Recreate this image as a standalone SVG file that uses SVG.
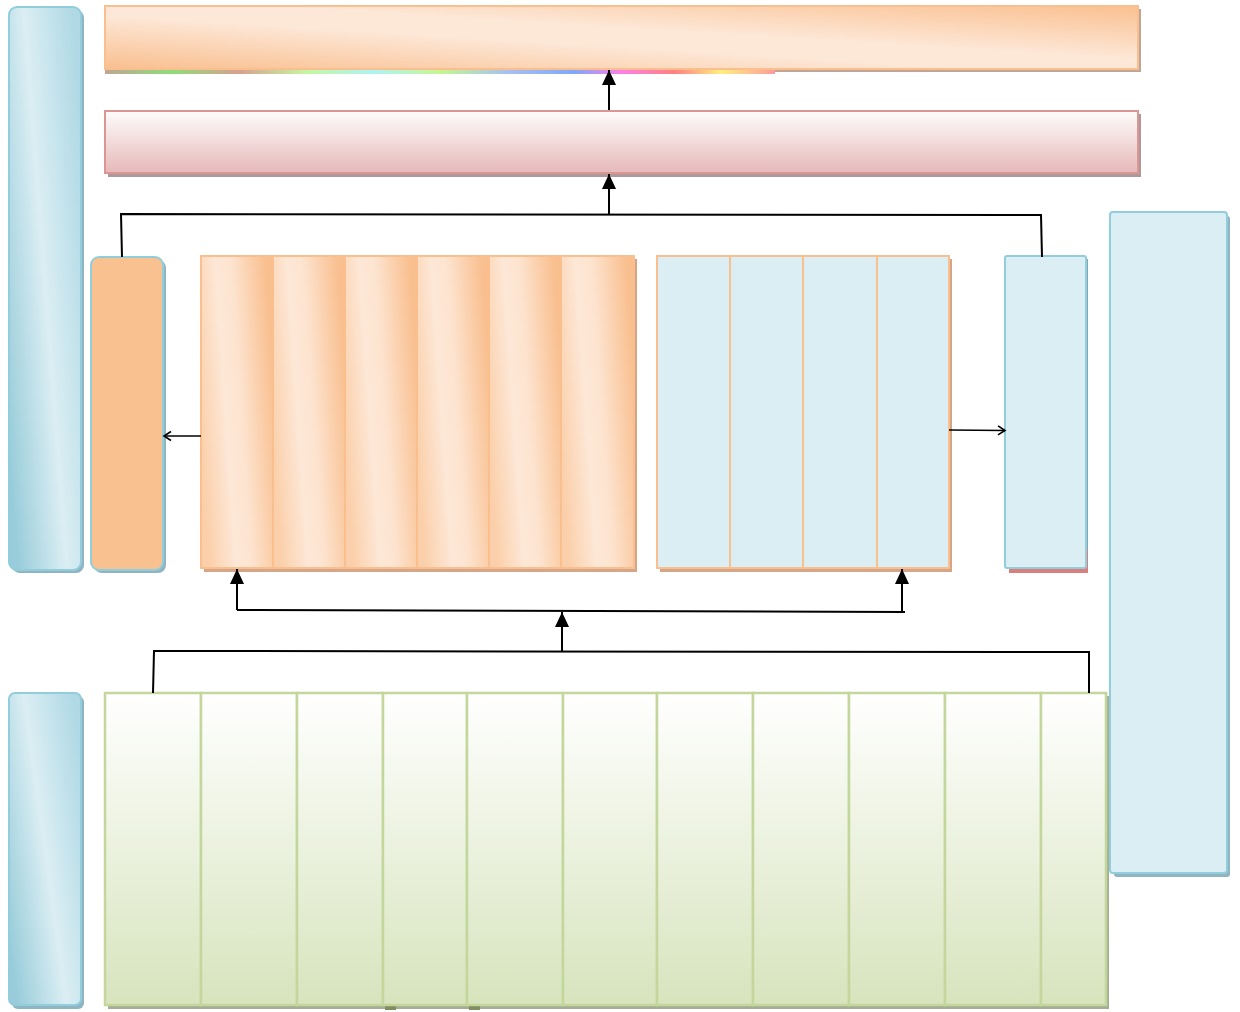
<svg xmlns="http://www.w3.org/2000/svg" width="1240" height="1012" viewBox="0 0 1240 1012">
<style>
.conn{fill:none;stroke:#000;stroke-width:2}
.thin{fill:none;stroke:#000;stroke-width:1.6}
.orcol{fill:url(#gCol);stroke:#f9bf8f;stroke-width:2}
.blcol{fill:#dbeef3;stroke:#f9bf8f;stroke-width:2}
.grcol{fill:url(#gGr);stroke:#c3d69b;stroke-width:2.5}
.shOr{fill:#d4a687}
.shBl{fill:#8fb5c3}
.shGr{fill:#a5ad95}
</style>
<defs>
<linearGradient id="gOr" x1="0" y1="1" x2="1" y2="0">
<stop offset="0" stop-color="#f9bf8f"/>
<stop offset="0.42" stop-color="#fde7d6"/>
<stop offset="0.58" stop-color="#fde7d6"/>
<stop offset="1" stop-color="#fac090"/>
</linearGradient>
<linearGradient id="gCol" x1="0" y1="0.65" x2="1" y2="0.35">
<stop offset="0" stop-color="#fbcfa9"/>
<stop offset="0.35" stop-color="#fde7d6"/>
<stop offset="0.55" stop-color="#fde4d0"/>
<stop offset="1" stop-color="#f9bf8f"/>
</linearGradient>
<linearGradient id="gPk" x1="0" y1="0" x2="0" y2="1">
<stop offset="0" stop-color="#fefcfc"/>
<stop offset="1" stop-color="#e6b9b8"/>
</linearGradient>
<linearGradient id="gBl" x1="0" y1="0.8" x2="1" y2="0.2">
<stop offset="0" stop-color="#98ccda"/>
<stop offset="0.5" stop-color="#dbeef3"/>
<stop offset="1" stop-color="#b0d9e5"/>
</linearGradient>
<linearGradient id="gGr" x1="0" y1="0" x2="0" y2="1">
<stop offset="0" stop-color="#ffffff"/>
<stop offset="1" stop-color="#d7e4bd"/>
</linearGradient>
<linearGradient id="gStrip" x1="0" y1="0" x2="1" y2="0">
<stop offset="0" stop-color="#c0a595"/>
<stop offset="0.1" stop-color="#8fdc7a"/>
<stop offset="0.2" stop-color="#d8a090"/>
<stop offset="0.3" stop-color="#c5f5a0"/>
<stop offset="0.4" stop-color="#aef3f5"/>
<stop offset="0.5" stop-color="#c8f590"/>
<stop offset="0.6" stop-color="#a8c0f0"/>
<stop offset="0.7" stop-color="#7fa8f8"/>
<stop offset="0.77" stop-color="#ff80e8"/>
<stop offset="0.85" stop-color="#ff8080"/>
<stop offset="0.92" stop-color="#fff080"/>
<stop offset="1" stop-color="#ff9a9a"/>
</linearGradient>
<marker id="tri" markerUnits="userSpaceOnUse" markerWidth="16" markerHeight="16" refX="15" refY="7" orient="auto">
<path d="M0,0 L15,7 L0,14 Z" fill="#000"/>
</marker>
<marker id="open" markerUnits="userSpaceOnUse" markerWidth="10" markerHeight="12" refX="8" refY="5.5" orient="auto">
<path d="M1,1 L8,5.5 L1,10" fill="none" stroke="#000" stroke-width="1.6"/>
</marker>
</defs>

<g id="top-bar">
<rect x="108" y="9" width="1033" height="63" fill="#c0a595"/>
<rect x="105" y="70" width="670" height="4" fill="url(#gStrip)"/>
<rect x="105" y="6" width="1033" height="63" fill="url(#gOr)" stroke="#f9bf8f" stroke-width="2"/>
</g>

<g id="second-bar">
<rect x="108" y="114" width="1033" height="63" fill="#b09898"/>
<rect x="105" y="111" width="1033" height="62" fill="url(#gPk)" stroke="#d99694" stroke-width="2"/>
</g>

<g id="left-panel-top">
<rect x="12" y="10" width="72" height="563" rx="8" class="shBl"/>
<rect x="9" y="7" width="72" height="563" rx="8" fill="url(#gBl)" stroke="#92cddc" stroke-width="2"/>
</g>

<g id="orange-box">
<rect x="94" y="260" width="72" height="313" rx="8" class="shBl"/>
<rect x="91" y="257" width="72" height="313" rx="8" fill="#f9c090" stroke="#92cddc" stroke-width="2"/>
</g>

<g id="orange-columns">
<rect x="204" y="259" width="433" height="313" class="shOr"/>
<rect x="201" y="256" width="72" height="312" class="orcol"/>
<rect x="273" y="256" width="72" height="312" class="orcol"/>
<rect x="345" y="256" width="72" height="312" class="orcol"/>
<rect x="417" y="256" width="72" height="312" class="orcol"/>
<rect x="489" y="256" width="72" height="312" class="orcol"/>
<rect x="561" y="256" width="73" height="312" class="orcol"/>
</g>

<g id="blue-columns">
<rect x="660" y="259" width="292" height="313" class="shOr"/>
<rect x="657" y="256" width="73" height="312" class="blcol"/>
<rect x="730" y="256" width="73" height="312" class="blcol"/>
<rect x="803" y="256" width="74" height="312" class="blcol"/>
<rect x="877" y="256" width="72" height="312" class="blcol"/>
</g>

<g id="right-blue-box">
<rect x="1009" y="260" width="79" height="313" fill="#d9807f"/>
<rect x="1008" y="259" width="80" height="290" fill="#7fa8b8"/>
<rect x="1005" y="256" width="81" height="312" rx="2" fill="#dbeef3" stroke="#92cddc" stroke-width="2"/>
</g>

<g id="right-tall-panel">
<rect x="1114" y="216" width="116" height="661" rx="3" class="shBl"/>
<rect x="1110" y="212" width="117" height="661" rx="3" fill="#dbeef3" stroke="#92cddc" stroke-width="2"/>
</g>

<g id="left-panel-bottom">
<rect x="12" y="696" width="72" height="313" rx="6" class="shBl"/>
<rect x="9" y="693" width="72" height="312" rx="6" fill="url(#gBl)" stroke="#92cddc" stroke-width="2"/>
</g>

<g id="green-columns">
<rect x="108" y="696" width="1001" height="313" class="shGr"/>
<rect x="385" y="1005" width="11" height="5" fill="#7f8f5f"/>
<rect x="469" y="1005" width="11" height="5" fill="#7f8f5f"/>
<rect x="105" y="693" width="96" height="312" class="grcol"/>
<rect x="201" y="693" width="96" height="312" class="grcol"/>
<rect x="297" y="693" width="86" height="312" class="grcol"/>
<rect x="383" y="693" width="84" height="312" class="grcol"/>
<rect x="467" y="693" width="96" height="312" class="grcol"/>
<rect x="563" y="693" width="94" height="312" class="grcol"/>
<rect x="657" y="693" width="96" height="312" class="grcol"/>
<rect x="753" y="693" width="96" height="312" class="grcol"/>
<rect x="849" y="693" width="96" height="312" class="grcol"/>
<rect x="945" y="693" width="96" height="312" class="grcol"/>
<rect x="1041" y="693" width="65" height="312" class="grcol"/>
</g>

<g id="connectors">
<path class="conn" d="M609,110 L609,70" marker-end="url(#tri)"/>
<path class="conn" d="M122,257 L121,214 L1041,215 L1042,257"/>
<path class="conn" d="M609,214 L609,174" marker-end="url(#tri)"/>
<path class="thin" d="M201,436 L164,436" marker-end="url(#open)"/>
<path class="thin" d="M949,430 L1005,430.5" marker-end="url(#open)"/>
<path class="conn" d="M153,693 L154,651 L1089,652 L1089,693"/>
<path class="conn" d="M562,651 L562,612" marker-end="url(#tri)"/>
<path class="conn" d="M237,610 L905,612"/>
<path class="conn" d="M237,610 L237,569" marker-end="url(#tri)"/>
<path class="conn" d="M902,612 L902,569" marker-end="url(#tri)"/>
</g>
</svg>
